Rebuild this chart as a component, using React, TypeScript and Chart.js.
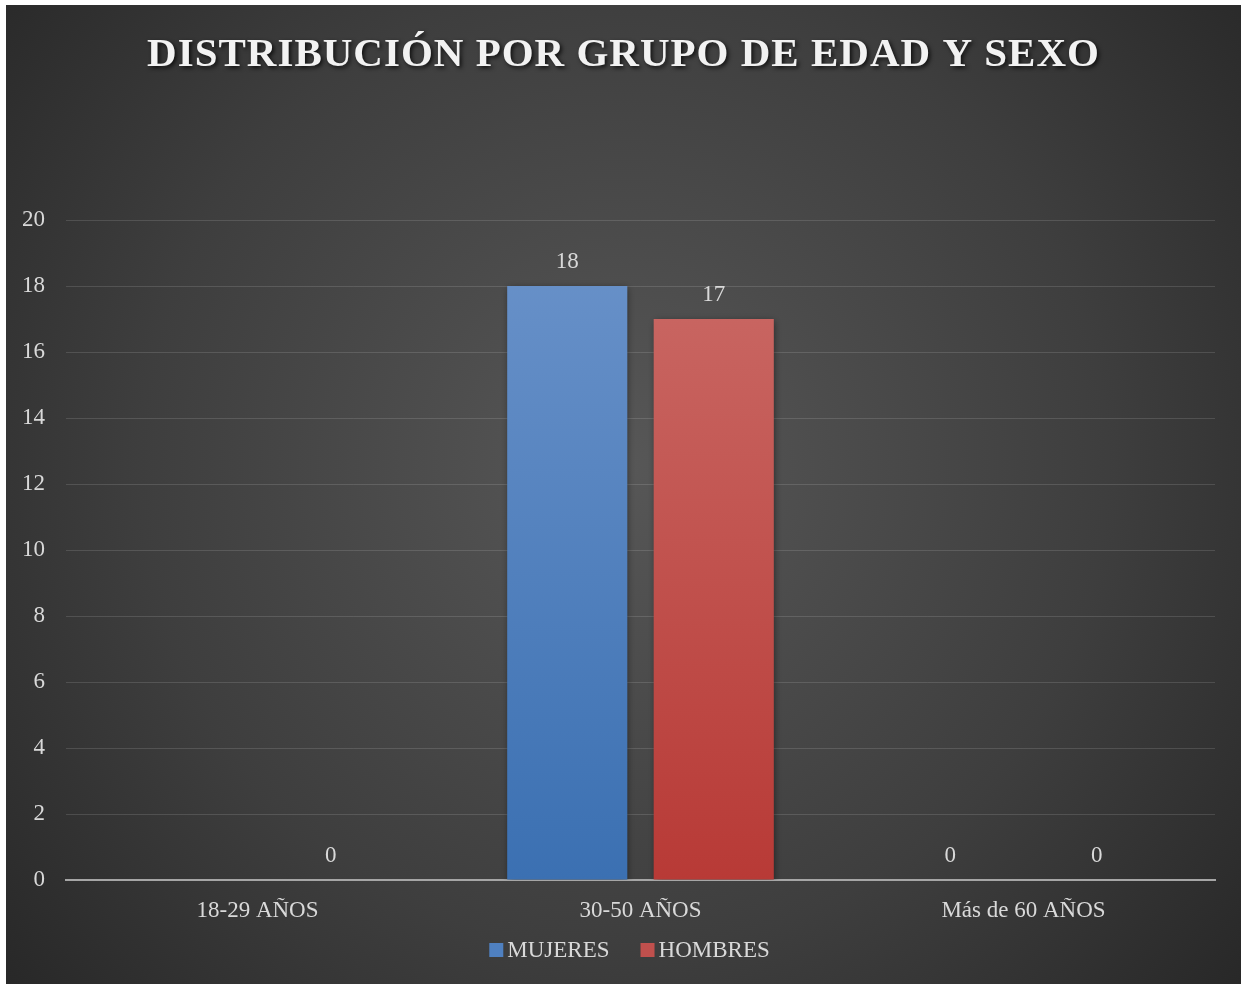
import React, { useEffect, useRef } from "react";
import { Chart, registerables } from "chart.js";

Chart.register(...registerables);

const TITLE = "DISTRIBUCIÓN POR GRUPO DE EDAD Y SEXO";
const categories = ["18-29 AÑOS", "30-50 AÑOS", "Más de 60 AÑOS"];
const mujeres: (number | null)[] = [null, 18, 0];
const hombres: (number | null)[] = [0, 17, 0];
const seriesNames = ["MUJERES", "HOMBRES"];
const seriesColors = ["#4f80c0", "#c0504d"];
const yMin = 0;
const yMax = 20;
const yStep = 2;

const SERIF = "'Liberation Serif', 'DejaVu Serif', serif";
const TEXT = "#d9d9d9";

const backgroundPlugin = {
  id: "bgGradient",
  beforeDraw(chart: any) {
    const { ctx, width, height } = chart;
    ctx.save();
    const g = ctx.createRadialGradient(width * 0.5, height * 0.47, 0, width * 0.5, height * 0.47, 880);
    g.addColorStop(0, "#575757");
    g.addColorStop(0.55, "#3e3e3e");
    g.addColorStop(1, "#232323");
    ctx.fillStyle = g;
    ctx.fillRect(0, 0, width, height);
    ctx.restore();
  },
};

const titlePlugin = {
  id: "spacedTitle",
  afterDraw(chart: any) {
    const { ctx, width } = chart;
    ctx.save();
    ctx.font = `bold 41px ${SERIF}`;
    (ctx as any).letterSpacing = "1px";
    ctx.textAlign = "center";
    ctx.textBaseline = "middle";
    ctx.shadowColor = "rgba(0,0,0,0.75)";
    ctx.shadowBlur = 4;
    ctx.shadowOffsetX = 2;
    ctx.shadowOffsetY = 2;
    ctx.fillStyle = "#f2f2f2";
    ctx.fillText(TITLE, width / 2, 50);
    ctx.restore();
  },
};

const legendPlugin = {
  id: "bottomLegend",
  afterDraw(chart: any) {
    const { ctx, width } = chart;
    const box = 14;
    const gap = 4;
    const spacing = 31;
    const y = 945;
    ctx.save();
    ctx.font = `23px ${SERIF}`;
    const widths = chart.data.datasets.map((ds: any) => ctx.measureText(ds.label).width);
    const total =
      widths.reduce((a: number, w: number) => a + box + gap + w, 0) + spacing * (widths.length - 1);
    let x = width / 2 - total / 2 + 6;
    ctx.textBaseline = "middle";
    ctx.textAlign = "left";
    chart.data.datasets.forEach((ds: any, i: number) => {
      ctx.fillStyle = seriesColors[i];
      ctx.fillRect(x, y - box / 2, box, box);
      ctx.fillStyle = TEXT;
      ctx.fillText(ds.label, x + box + gap, y + 1);
      x += box + gap + widths[i] + spacing;
    });
    ctx.restore();
  },
};

const barShadowPlugin = {
  id: "barShadow",
  beforeDatasetsDraw(chart: any) {
    const { ctx } = chart;
    ctx.save();
    ctx.shadowColor = "rgba(0,0,0,0.45)";
    ctx.shadowBlur = 7;
    ctx.shadowOffsetX = 1;
    ctx.shadowOffsetY = 2;
  },
  afterDatasetsDraw(chart: any) {
    chart.ctx.restore();
  },
};

const dataLabelPlugin = {
  id: "valueLabels",
  afterDatasetsDraw(chart: any) {
    const { ctx } = chart;
    ctx.save();
    ctx.font = `23px ${SERIF}`;
    ctx.fillStyle = TEXT;
    ctx.textAlign = "center";
    ctx.textBaseline = "middle";
    chart.data.datasets.forEach((ds: any, di: number) => {
      const meta = chart.getDatasetMeta(di);
      meta.data.forEach((el: any, i: number) => {
        const v = ds.data[i];
        if (v === null || v === undefined) return;
        ctx.fillText(String(v), el.x, el.y - 24);
      });
    });
    ctx.restore();
  },
};

function makeGradient(chart: any, top: string, bottom: string) {
  const area = chart.chartArea;
  if (!area) return bottom;
  const g = chart.ctx.createLinearGradient(0, area.top, 0, area.bottom);
  g.addColorStop(0, top);
  g.addColorStop(1, bottom);
  return g;
}

export default function App() {
  const ref = useRef<HTMLCanvasElement | null>(null);

  useEffect(() => {
    if (!ref.current) return;
    const chart = new Chart(ref.current, {
      type: "bar",
      data: {
        labels: categories,
        datasets: [
          {
            label: seriesNames[0],
            data: mujeres,
            backgroundColor: (c: any) => makeGradient(c.chart, "#6b93ca", "#3b70b2"),
            borderWidth: 0,
            categoryPercentage: 0.765,
            barPercentage: 0.82,
          },
          {
            label: seriesNames[1],
            data: hombres,
            backgroundColor: (c: any) => makeGradient(c.chart, "#cb6c68", "#b83a36"),
            borderWidth: 0,
            categoryPercentage: 0.765,
            barPercentage: 0.82,
          },
        ],
      },
      options: {
        animation: false,
        responsive: false,
        maintainAspectRatio: false,
        layout: { padding: { top: 215, right: 26, bottom: 43, left: 0 } },
        plugins: {
          legend: { display: false },
          title: { display: false },
          tooltip: { enabled: false },
        },
        scales: {
          x: {
            grid: { display: false, drawTicks: false },
            border: { display: true, color: "#a6a6a6", width: 2 },
            ticks: { color: TEXT, font: { family: SERIF, size: 23, lineHeight: 1 }, padding: 19 },
          },
          y: {
            min: yMin,
            max: yMax,
            afterFit: (s: any) => {
              s.width = 60;
            },
            grid: { color: "rgba(255,255,255,0.13)", lineWidth: 1, drawTicks: false },
            border: { display: false },
            ticks: {
              stepSize: yStep,
              color: TEXT,
              font: { family: SERIF, size: 23 },
              padding: 21,
            },
          },
        },
      },
      plugins: [backgroundPlugin, barShadowPlugin, dataLabelPlugin, legendPlugin, titlePlugin],
    } as any);
    return () => chart.destroy();
  }, []);

  return (
    <div style={{ position: "absolute", left: 6, top: 5, width: 1235, height: 979 }}>
      <canvas ref={ref} width={1235} height={979} style={{ display: "block" }} />
    </div>
  );
}
